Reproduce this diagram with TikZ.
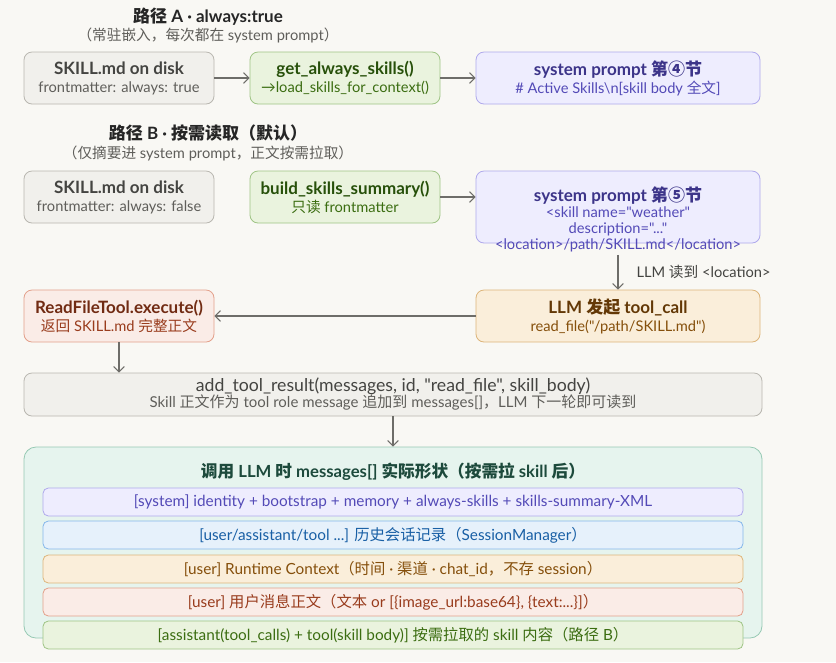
\documentclass[tikz,border=0pt]{standalone}
\usepackage{fontspec}
\setmainfont{Lato}[Ligatures=TeXOff]
\newfontfamily\zhfont{Noto Sans CJK SC}
\newcommand\zh[1]{{\zhfont #1}}
\usetikzlibrary{arrows.meta}

\definecolor{paper}{HTML}{F9F8F4}
\definecolor{grayfill}{HTML}{F1F0EC}
\definecolor{grayline}{HTML}{B9B7B0}
\definecolor{graytitle}{HTML}{444441}
\definecolor{graysub}{HTML}{5F5E5A}
\definecolor{greenfill}{HTML}{EAF3DE}
\definecolor{greenline}{HTML}{9FC485}
\definecolor{greentitle}{HTML}{27500A}
\definecolor{greensub}{HTML}{3B6D11}
\definecolor{purplefill}{HTML}{EEEDFE}
\definecolor{purpleline}{HTML}{AFA9EC}
\definecolor{purpletitle}{HTML}{3C3489}
\definecolor{purplesub}{HTML}{534AB7}
\definecolor{bluefill}{HTML}{E6F1FB}
\definecolor{blueline}{HTML}{85B7EB}
\definecolor{bluesub}{HTML}{185FA5}
\definecolor{amberfill}{HTML}{FAEEDA}
\definecolor{amberline}{HTML}{DDB57A}
\definecolor{ambertitle}{HTML}{633806}
\definecolor{ambersub}{HTML}{854F0B}
\definecolor{coralfill}{HTML}{FAECE7}
\definecolor{coralline}{HTML}{E3A08A}
\definecolor{coraltitle}{HTML}{712B13}
\definecolor{coralsub}{HTML}{993C1D}
\definecolor{mintfill}{HTML}{E6F4EE}
\definecolor{mintline}{HTML}{96C9B3}
\definecolor{minttitle}{HTML}{1D4A3C}
\definecolor{arrowgray}{HTML}{6E6D69}

\newcommand\ttl{\fontsize{12.75}{14}\selectfont\bfseries}
\newcommand\sub{\fontsize{11}{13.5}\selectfont}

\tikzset{
  box/.style={rounded corners=6pt, line width=0.6pt, align=center, inner sep=0pt, minimum height=39pt},
  graybox/.style={box, fill=grayfill, draw=grayline},
  greenbox/.style={box, fill=greenfill, draw=greenline},
  purplebox/.style={box, fill=purplefill, draw=purpleline},
  amberbox/.style={box, fill=amberfill, draw=amberline},
  coralbox/.style={box, fill=coralfill, draw=coralline},
  row/.style={box, minimum width=525pt, minimum height=21pt, rounded corners=4pt, font=\fontsize{11.5}{12}\selectfont},
  head/.style={font=\fontsize{12.75}{14}\selectfont\bfseries, text=black!85},
  headsub/.style={font=\fontsize{11}{12}\selectfont, text=graysub},
  flow/.style={-{Straight Barb[length=4pt,width=8pt]}, draw=arrowgray, line width=0.8pt},
}

\begin{document}
\begin{tikzpicture}[x=0.75pt,y=0.75pt,yscale=-1,xscale=1]
\fill[paper] (0,0) rectangle (836,662);
\useasboundingbox (0,0) rectangle (836,662);

% path A
\node[head] (titleA) at (208,17) {\zh{路径} A · always:true};
\node[headsub] (subA) at (208,35) {\zh{（常驻嵌入，每次都在} system prompt\zh{）}};
\node[graybox, minimum width=142.5pt] (diskA) at (119,78) {{\ttl\color{graytitle}SKILL.md on disk}\\[1.5pt]{\sub\color{graysub}frontmatter: always: true}};
\node[greenbox, minimum width=142.5pt] (alwaysfn) at (345,78) {{\ttl\color{greentitle}get\_always\_skills()}\\[1.5pt]{\sub\color{greensub}→load\_skills\_for\_context()}};
\node[purplebox, minimum width=213pt] (promptA) at (618,78) {{\ttl\color{purpletitle}system prompt \zh{第④节}}\\[1.5pt]{\sub\color{purplesub}\# Active Skills\textbackslash n[skill body \zh{全文}]}};
\draw[flow] (diskA) -- (alwaysfn);
\draw[flow] (alwaysfn) -- (promptA);

% path B
\node[head] (titleB) at (208,133) {\zh{路径} B · \zh{按需读取（默认）}};
\node[headsub] (subB) at (208,153) {\zh{（仅摘要进} system prompt\zh{，正文按需拉取）}};
\node[graybox, minimum width=142.5pt] (diskB) at (119,197) {{\ttl\color{graytitle}SKILL.md on disk}\\[1.5pt]{\sub\color{graysub}frontmatter: always: false}};
\node[greenbox, minimum width=142.5pt] (summaryfn) at (345,197) {{\ttl\color{greentitle}build\_skills\_summary()}\\[1.5pt]{\sub\color{greensub}\zh{只读} frontmatter}};
\node[purplebox, minimum width=213pt, minimum height=54pt] (promptB) at (618,207) {};
\node[align=center, inner sep=0pt] (promptBtext) at (618,219) {{\ttl\color{purpletitle}system prompt \zh{第⑤节}}\\{\fontsize{11}{12}\selectfont\color{purplesub}<skill name="weather"}\\{\fontsize{11}{12}\selectfont\color{purplesub}description="..."}\\{\fontsize{11}{12}\selectfont\color{purplesub}<location>/path/SKILL.md</location>}};
\draw[flow] (summaryfn.east) -- (summaryfn.east -| promptB.west);

\node[amberbox, minimum width=213pt] (llmcall) at (618,316) {{\ttl\color{ambertitle}LLM \zh{发起} tool\_call}\\[1.5pt]{\sub\color{ambersub}read\_file("/path/SKILL.md")}};
\draw[flow] (promptBtext.south) ++(0,3) coordinate (locfrom) (locfrom) -- (llmcall.north) node[midway, anchor=west, xshift=13.5pt, inner sep=0pt, font=\sub, text=graytitle] (readloc) {LLM \zh{读到} <location>};

\node[coralbox, minimum width=142.5pt] (readtool) at (119,316) {{\ttl\color{coraltitle}ReadFileTool.execute()}\\[1.5pt]{\sub\color{coralsub}\zh{返回} SKILL.md \zh{完整正文}}};
\draw[flow] (llmcall.west) -- (readtool.east);

\node[graybox, minimum width=553.5pt, minimum height=32.25pt, text depth=3pt] (addresult) at (393,394.5) {{\fontsize{13.25}{13}\selectfont\color{graytitle}add\_tool\_result(messages, id, "read\_file", skill\_body)}\\{\fontsize{11.25}{11.5}\selectfont\color{graysub}Skill \zh{正文作为} tool role message \zh{追加到} messages[]\zh{，}LLM \zh{下一轮即可读到}}};
\draw[flow] (readtool.south) -- (readtool.south |- addresult.north);

% messages[] at call time
\node[box, fill=mintfill, draw=mintline, rounded corners=9pt, minimum width=553.5pt, minimum height=143.25pt] (msgs) at (393,542.5) {};
\node[font=\fontsize{12.5}{14}\selectfont\bfseries, text=minttitle] (msgtitle) at (393,472) {\zh{调用} LLM \zh{时} messages[] \zh{实际形状（按需拉} skill \zh{后）}};
\draw[flow] (addresult.south) -- (msgs.north);

\node[row, fill=purplefill, draw=purpleline, text=purplesub] (rowsys) at (393,502) {[system] identity + bootstrap + memory + always-skills + skills-summary-XML};
\node[row, fill=bluefill, draw=blueline, text=bluesub] (rowhist) at (393,535) {[user/assistant/tool ...] \zh{历史会话记录（}SessionManager\zh{）}};
\node[row, fill=amberfill, draw=amberline, text=ambersub] (rowctx) at (393,569) {[user] Runtime Context\zh{（时间}~·~\zh{渠道}~·~chat\_id\zh{，不存} session\zh{）}};
\node[row, fill=coralfill, draw=coralline, text=coralsub] (rowuser) at (393,602) {[user] \zh{用户消息正文（文本} or [\{image\_url:base64\}, \{text:...\}]\zh{）}};
\node[row, fill=greenfill, draw=greenline, text=greensub] (rowskill) at (393,635) {[assistant(tool\_calls) + tool(skill body)] \zh{按需拉取的} skill \zh{内容（路径} B\zh{）}};
\end{tikzpicture}
\end{document}
